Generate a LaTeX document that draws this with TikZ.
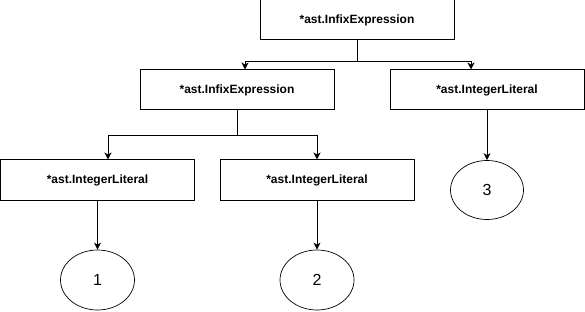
\documentclass[tikz,border=0pt]{standalone}
\usepackage{fontspec}
\setmainfont{Liberation Sans}
\usetikzlibrary{shapes.geometric,arrows.meta}

\tikzset{
  astbox/.style={draw,rectangle,minimum width=194pt,minimum height=40pt,
    inner sep=0pt,font=\bfseries\fontsize{12}{14}\selectfont},
  leaf/.style={draw,ellipse,minimum width=74pt,minimum height=60pt,
    inner sep=0pt,line width=0.7pt,font=\fontsize{16}{18}\selectfont},
  link/.style={-{Stealth[length=7pt,width=7pt,inset=2pt]}},
}

\begin{document}
\begin{tikzpicture}[x=1pt,y=-1pt,line width=1pt]
  \useasboundingbox (0,0) rectangle (585,312);

  % syntax tree nodes
  \node[astbox] (top) at (357,20) {*ast.InfixExpression};
  \node[astbox] (infix) at (237,90) {*ast.InfixExpression};
  \node[astbox] (int3) at (487,90) {*ast.IntegerLiteral};
  \node[astbox] (int1) at (97.5,180) {*ast.IntegerLiteral};
  \node[astbox] (int2) at (317,180) {*ast.IntegerLiteral};

  % literal values
  \node[leaf] (n1) at (97.5,280) {1};
  \node[leaf] (n2) at (317,280) {2};
  \node[leaf,minimum width=73pt,minimum height=59pt] (n3) at (487,190) {3};

  % edges from the root
  \draw[link] (top.south) -- ++(0,21) -| ([xshift=8pt]infix.north);
  \draw[link] (top.south) -- ++(0,21) -| ([xshift=-16pt]int3.north);

  % edges from the inner expression
  \draw[link] (infix.south) -- ++(0,25) -| ([xshift=10.5pt]int1.north);
  \draw[link] (infix.south) -- ++(0,25) -| (int2.north);

  % literals down to their values
  \draw[link] (int1.south) -- (n1.north);
  \draw[link] (int2.south) -- (n2.north);
  \draw[link] (int3.south) -- (n3.north);
\end{tikzpicture}
\end{document}
